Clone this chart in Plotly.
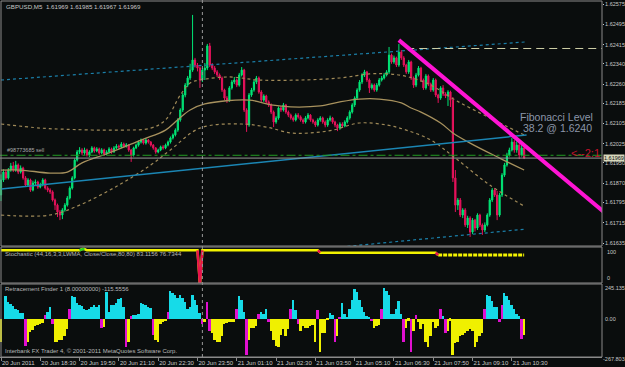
import plotly.graph_objects as go

# ---------------- data (prices in points above 1.61000, 1 point = 0.00001) ----------------
BASE = 1.61
PT = 1e-5
OPEN_FIRST = 824
CLOSE_PTS = [883, 914, 891, 922, 938, 922, 942, 914, 930, 891, 863, 883, 843, 871,
             875, 855, 863, 883, 851, 843, 836,
             804, 784, 757, 745, 765, 784, 812, 851, 891, 961, 993, 1001,
             989, 1001, 981, 993, 1009, 997, 1005, 989, 1001, 985, 993, 1005, 993, 1009, 1016, 1013, 1024, 1016, 1020, 1001,
             981,
             1009, 1020, 1032, 1040, 1028, 1040, 1032, 1020, 1009,
             993, 1001, 1013, 1009,
             1020, 1032, 1048, 1060,
             1079, 1119, 1158, 1217, 1256, 1284, 1315, 1355,
             1335, 1323, 1276, 1315, 1323, 1410, 1335, 1323, 1308, 1296, 1284, 1237, 1205, 1197, 1245, 1268, 1276, 1256,
             1296, 1315, 1158, 1099, 1217, 1237, 1268, 1284, 1229, 1197, 1213, 1190, 1178, 1150, 1111, 1127, 1166, 1158,
             1178, 1150, 1138,
             1127, 1119, 1138, 1131, 1119, 1111, 1127, 1138, 1119, 1111, 1099, 1119, 1127, 1111, 1099, 1119, 1127, 1111,
             1099, 1087, 1103, 1095, 1111, 1127,
             1150, 1178, 1205, 1237, 1268, 1296, 1308,
             1276, 1245, 1256, 1237, 1256, 1276, 1284, 1296, 1308,
             1374, 1347, 1363, 1335, 1386, 1363,
             1335, 1308, 1347, 1284, 1256, 1296, 1323, 1276, 1245, 1292, 1260,
             1237, 1276, 1217, 1205, 1245, 1221, 1213, 1229, 1197,
             891, 784, 804,
             745, 765, 706, 733, 678, 725, 694, 745, 706, 686, 706,
             745, 804, 843, 824, 745, 824, 902, 942, 981, 1001,
             1032, 1001, 1020, 981, 1009, 969]
HIGH_PTS = [905, 925, 922, 930, 950, 954, 958, 948, 940, 935, 898, 890, 888, 880,
            885, 880, 872, 890, 888, 858, 850,
            842, 810, 790, 765, 772, 792, 820, 858, 898, 968, 1001, 1012,
            1008, 1010, 1006, 1000, 1016, 1014, 1012, 1010, 1008, 1006, 1000, 1012, 1010, 1016, 1024, 1022, 1032, 1030, 1028, 1024,
            1005,
            1014, 1026, 1038, 1046, 1044, 1048, 1044, 1036, 1024,
            1012, 1006, 1018, 1020,
            1026, 1038, 1054, 1066,
            1086, 1126, 1165, 1225, 1264, 1292, 1340, 1532,
            1363, 1343, 1330, 1323, 1343, 1418, 1422, 1343, 1331, 1315, 1302, 1290, 1242, 1213, 1252, 1276, 1288, 1282,
            1304, 1327, 1320, 1165, 1225, 1245, 1276, 1292, 1290, 1236, 1220, 1218, 1196, 1184, 1156, 1134, 1172, 1174,
            1186, 1182, 1156,
            1144, 1133, 1145, 1146, 1137, 1125, 1134, 1146, 1142, 1124, 1116, 1126, 1134, 1132, 1117, 1126, 1136, 1131,
            1116, 1104, 1110, 1110, 1118, 1134,
            1157, 1185, 1212, 1244, 1276, 1303, 1316,
            1312, 1282, 1263, 1262, 1264, 1284, 1292, 1304, 1315,
            1406, 1380, 1372, 1368, 1418, 1394,
            1370, 1340, 1355, 1352, 1290, 1304, 1331, 1328, 1282, 1300, 1298,
            1266, 1284, 1282, 1222, 1252, 1256, 1228, 1236, 1234,
            1209, 922, 812,
            812, 772, 772, 742, 740, 733, 730, 752, 750, 712, 716,
            752, 812, 851, 850, 840, 832, 910, 950, 990, 1010,
            1048, 1040, 1035, 1028, 1030, 1012]
LOW_PTS = [800, 875, 884, 885, 915, 914, 915, 906, 908, 884, 855, 856, 836, 838,
           862, 848, 850, 858, 845, 835, 828,
           798, 765, 737, 725, 729, 758, 778, 806, 845, 885, 955, 985,
           980, 982, 975, 973, 988, 990, 992, 982, 984, 978, 980, 988, 986, 990, 1004, 1006, 1008, 1010, 1010, 994,
           954,
           975, 1004, 1014, 1026, 1022, 1022, 1026, 1014, 1002,
           986, 988, 996, 1002,
           1004, 1015, 1026, 1042,
           1054, 1072, 1112, 1150, 1208, 1248, 1276, 1308,
           1325, 1310, 1245, 1268, 1276, 1315, 1327, 1315, 1300, 1288, 1276, 1229, 1197, 1186, 1190, 1238, 1260, 1248,
           1250, 1290, 1150, 1072, 1092, 1210, 1230, 1260, 1222, 1190, 1190, 1182, 1170, 1142, 1091, 1104, 1120, 1150,
           1152, 1143, 1130,
           1120, 1112, 1113, 1124, 1112, 1103, 1105, 1121, 1112, 1104, 1091, 1093, 1112, 1104, 1090, 1092, 1113, 1104,
           1090, 1075, 1080, 1088, 1090, 1105,
           1120, 1144, 1170, 1198, 1230, 1260, 1288,
           1268, 1225, 1238, 1230, 1230, 1250, 1270, 1278, 1290,
           1300, 1340, 1340, 1327, 1328, 1355,
           1327, 1300, 1300, 1276, 1245, 1248, 1290, 1268, 1237, 1238, 1252,
           1229, 1230, 1209, 1186, 1198, 1213, 1205, 1174, 1170,
           875, 757, 765,
           737, 733, 698, 694, 659, 670, 680, 686, 698, 667, 678,
           700, 738, 796, 816, 725, 738, 816, 895, 935, 975,
           995, 990, 990, 965, 975, 965]
OPEN_PTS = [OPEN_FIRST] + CLOSE_PTS[:-1]

# moving average + envelopes (bar index, points)
MA_MID_BARS = [0, 8, 20, 27, 33, 44, 57, 67, 72, 77, 83, 101, 110, 118, 130, 138, 146, 154, 163, 167, 171, 179, 184, 191, 203, 213]
MA_MID_PTS = [922, 922, 910, 914, 950, 989, 1040, 1079, 1120, 1158, 1182, 1197, 1178, 1170, 1174, 1190, 1201, 1201, 1186, 1166, 1150, 1107, 1068, 1028, 969, 922]
MA_UP_BARS = [0, 16, 24, 48, 61, 67, 73, 77, 81, 93, 105, 122, 138, 150, 158, 166, 175, 185, 199, 213]
MA_UP_PTS = [1103, 1087, 1083, 1079, 1087, 1119, 1217, 1264, 1276, 1288, 1276, 1276, 1284, 1300, 1300, 1288, 1256, 1197, 1127, 1060]
MA_LO_BARS = [0, 20, 32, 48, 61, 69, 81, 98, 108, 118, 126, 135, 146, 157, 165, 175, 185, 199, 213]
MA_LO_PTS = [745, 745, 784, 863, 942, 1001, 1087, 1103, 1091, 1068, 1068, 1079, 1107, 1099, 1079, 1040, 969, 863, 780]

# regression channel
REG_BARS = [0, 214]
REG_MID_PTS = [847, 1060]
REG_UP_PTS = [1276, 1426]
REG_LO_PTS = [490, 690]

# trend line, fibonacci level, order & bid
TREND_BARS = [162, 246]
TREND_PTS = [1433, 753]
FIB_BARS = [165, 247]
FIB_LEVEL = 1.6240
ORDER_LEVEL = 1.61980
BID = 1.61969
DAY_SEP_BAR = 82

PRICE_TICKS = [1.62575, 1.62495, 1.62415, 1.62340, 1.62260, 1.62185, 1.62105,
               1.62025, 1.61950, 1.61870, 1.61795, 1.61715, 1.61635]
TIME_TICK_BARS = [0, 16, 32, 48, 64, 80, 96, 112, 128, 144, 160, 176, 192, 208]
TIME_LABELS = ["20 Jun 2011", "20 Jun 18:30", "20 Jun 19:50", "20 Jun 21:10", "20 Jun 22:30",
               "20 Jun 23:50", "21 Jun 01:10", "21 Jun 02:30", "21 Jun 03:50", "21 Jun 05:10",
               "21 Jun 06:30", "21 Jun 07:50", "21 Jun 09:10", "21 Jun 10:30"]

# stochastic
STOCH = [99] * 33 + [103] * 2 + [99] * 46 + [-15] + [99] * 48 + [91] * 48 + [83] * 36
STOCH_GREEN_BARS = [33, 34]
STOCH_RED_BARS = [81, 82, 130, 178]
STOCH_DOTTED_FROM = 178
STOCH_LEVELS = [100, 0]

# retracement finder histogram
RETR = [-160, 0, 158, 122, 105, 90, 73, 61, 44, 41,
        -190, -160, -95, -75, -50, -40, -35, -30, 24, 49,
        85, -37, -165, -160, -150, -150, -120, -70, 73, 158,
        153, 110, 98, 90, 66, 61, 66, 85, 98, 85,
        98, -61, -60, 190, 49, 98, 98, 115, 139, 146,
        85, -200, -165, 17, 24, 24, 37, 110, 105, 98,
        85, 80, -110, -146, -160, -37, -24, -17, 49, 195,
        183, 171, 146, 171, 146, 122, 73, 85, 171, 134,
        98, 43, -37, -24, 122, -85, -98, -146, -160, -160,
        -122, -37, -32, -24, -24, -24, 73, 158, 134, 49,
        -255, -146, -61, -61, -49, 37, 49, 37, 66, -24,
        -85, -146, -190, -196, -110, -73, -122, -73, 73, 134,
        61, -37, -85, -50, -61, -61, -49, -40, -165, 61,
        -232, -98, -98, -10, 44, 24, -160, -122, 12, 110,
        37, 10, 73, 134, 212, 188, 134, 85, 49, 17,
        12, -17, -61, -49, -44, 66, 220, 195, 171, 37,
        37, 73, 129, 37, -160, -61, -12, -232, -85, 24,
        -24, -73, -37, -160, -196, -122, -24, -61, -49, 73,
        17, -98, -85, -12, -254, -170, -160, -122, -110, -98,
        -85, -73, -85, -196, -160, -122, -98, 68, 171, 163,
        129, 85, 85, -20, 98, 183, 159, 134, 98, 66,
        37, 17, -140, -115.56]
MAGENTA_BARS = [10, 18, 21, 28, 41, 51, 53, 62, 68, 82, 84, 85, 96, 100, 105, 109, 118, 121,
                129, 136, 138, 151, 155, 164, 167, 169, 179, 181, 197, 203, 204, 212]
RETR_LEVELS = [245.135, 0.0, -267.803]
RETR_LABELS = ["245.135", "0.00", "-267.803"]


def price(p):
    return BASE + p * PT


BARS = list(range(len(CLOSE_PTS)))

# ---------------- styling ----------------
W, H = 625, 367
BG = "#0a0d0d"
GRID = "#8a8a8a"
AX_TXT = "#c8c8c8"
FONT = "Liberation Sans, Arial, sans-serif"
X_RIGHT = 602 / W
BAR_PX = 2.456
AX_FS = 5.5

fig = go.Figure()

# envelopes / MA
fig.add_trace(go.Scatter(x=MA_UP_BARS, y=[price(v) for v in MA_UP_PTS], mode="lines",
                         line=dict(color="#a08a58", width=1.2, dash="dot", shape="spline"), yaxis="y"))
fig.add_trace(go.Scatter(x=MA_LO_BARS, y=[price(v) for v in MA_LO_PTS], mode="lines",
                         line=dict(color="#a08a58", width=1.2, dash="dot", shape="spline"), yaxis="y"))
fig.add_trace(go.Scatter(x=MA_MID_BARS, y=[price(v) for v in MA_MID_PTS], mode="lines",
                         line=dict(color="#a8925e", width=1.3, shape="spline"), yaxis="y"))
# regression channel
fig.add_trace(go.Scatter(x=REG_BARS, y=[price(v) for v in REG_UP_PTS], mode="lines",
                         line=dict(color="#1b7fa8", width=1.2, dash="dot"), yaxis="y"))
fig.add_trace(go.Scatter(x=REG_BARS, y=[price(v) for v in REG_LO_PTS], mode="lines",
                         line=dict(color="#1b7fa8", width=1.2, dash="dot"), yaxis="y"))
fig.add_trace(go.Scatter(x=REG_BARS, y=[price(v) for v in REG_MID_PTS], mode="lines",
                         line=dict(color="#1b86b4", width=1.5), yaxis="y"))

# order and bid lines
fig.add_trace(go.Scatter(x=[-1, 247], y=[ORDER_LEVEL, ORDER_LEVEL], mode="lines",
                         line=dict(color="#229a22", width=1, dash="dashdot"), yaxis="y"))
fig.add_trace(go.Scatter(x=[-1, 247], y=[BID, BID], mode="lines",
                         line=dict(color="#9a9a9a", width=1), yaxis="y"))

# candles
GREEN = "#00e676"
RED = "#e8125c"
fig.add_trace(go.Candlestick(
    x=BARS,
    open=[price(v) for v in OPEN_PTS], high=[price(v) for v in HIGH_PTS],
    low=[price(v) for v in LOW_PTS], close=[price(v) for v in CLOSE_PTS],
    increasing=dict(line=dict(color=GREEN, width=1), fillcolor=GREEN),
    decreasing=dict(line=dict(color=RED, width=1), fillcolor=RED),
    whiskerwidth=0, yaxis="y", hoverinfo="skip"))

# fib level and trend line
fig.add_trace(go.Scatter(x=FIB_BARS, y=[FIB_LEVEL, FIB_LEVEL], mode="lines",
                         line=dict(color="#cfcfa6", width=1, dash="8px,5px"), yaxis="y"))
fig.add_trace(go.Scatter(x=TREND_BARS, y=[price(v) for v in TREND_PTS], mode="lines",
                         line=dict(color="#ff14d4", width=4), yaxis="y"))

# stochastic
fig.add_trace(go.Scatter(x=BARS[:STOCH_DOTTED_FROM + 1], y=STOCH[:STOCH_DOTTED_FROM + 1], mode="lines",
                         line=dict(color="#f2f200", width=2.5), yaxis="y2"))
fig.add_trace(go.Scatter(x=BARS[STOCH_DOTTED_FROM:], y=STOCH[STOCH_DOTTED_FROM:], mode="lines",
                         line=dict(color="#f2f200", width=3, dash="4px,1px"), yaxis="y2"))
for idx_list, col in ((STOCH_GREEN_BARS, "#22d022"), (STOCH_RED_BARS, "#e8124c")):
    xs, ys = [], []
    for b in idx_list:
        xs += [b - 1, b, None]
        ys += [STOCH[b - 1], STOCH[b], None]
    fig.add_trace(go.Scatter(x=xs, y=ys, mode="lines", line=dict(color=col, width=2.5), yaxis="y2"))

# retracement histogram
colors = []
for i, v in enumerate(RETR):
    if i in MAGENTA_BARS:
        colors.append("#e010d0")
    elif v >= 0:
        colors.append("#16dbe8")
    else:
        colors.append("#f0f000")
fig.add_trace(go.Bar(x=list(range(len(RETR))), y=RETR, marker=dict(color=colors, line=dict(width=0)),
                     width=0.8, yaxis="y3"))


def py(ypix):
    return 1 - ypix / H


shapes = [
    dict(type="line", xref="x", yref="paper", x0=DAY_SEP_BAR, x1=DAY_SEP_BAR, y0=py(357), y1=1,
         line=dict(color="#9a9a9a", width=1, dash="dot")),
]
for yr in ("y domain", "y2 domain", "y3 domain"):
    shapes.append(dict(type="rect", xref="paper", yref=yr, x0=1 / W, x1=X_RIGHT, y0=0, y1=1,
                       line=dict(color=GRID, width=1), fillcolor="rgba(0,0,0,0)", layer="above"))

small = dict(family=FONT, size=6, color="#b8b8b8")
ann = [
    dict(text="GBPUSD,M5  1.61969 1.61985 1.61967 1.61969", x=4 / W, y=py(6), xref="paper", yref="paper",
         xanchor="left", yanchor="middle", showarrow=False, font=dict(family=FONT, size=6.2, color="#c8c8c8")),
    dict(text="#98773685 sell", x=5 / W, y=ORDER_LEVEL, xref="paper", yref="y", yshift=5,
         xanchor="left", yanchor="middle", showarrow=False, font=dict(family=FONT, size=5.5, color="#a8a8a8")),
    dict(text="Stochastic (44,16,3,3,LWMA, Close/Close,80,80) 83.1156 76.7344", x=3 / W, y=py(254),
         xref="paper", yref="paper", xanchor="left", yanchor="middle", showarrow=False, font=small),
    dict(text="Retracement Finder 1 (8.00000000) -115.5556", x=3 / W, y=py(289),
         xref="paper", yref="paper", xanchor="left", yanchor="middle", showarrow=False, font=small),
    dict(text="Interbank FX Trader 4, \u00a9 2001-2011 MetaQuotes Software Corp.", x=3 / W, y=py(351),
         xref="paper", yref="paper", xanchor="left", yanchor="middle", showarrow=False, font=small),
    dict(text="Fibonacci Level", x=595 / W, y=py(117), xref="paper", yref="paper",
         xanchor="right", yanchor="middle", showarrow=False, font=dict(family=FONT, size=10.5, color="#8c97aa")),
    dict(text="38.2 @ 1.6240", x=594 / W, y=py(128), xref="paper", yref="paper",
         xanchor="right", yanchor="middle", showarrow=False, font=dict(family=FONT, size=10.5, color="#8c97aa")),
    dict(text="<--2:1", x=X_RIGHT, y=ORDER_LEVEL, xref="paper", yref="y", yshift=2,
         xanchor="right", yanchor="middle", showarrow=False, font=dict(family=FONT, size=11, color="#c4122c")),
    dict(text="1.61969", x=X_RIGHT + 1 / W, y=BID, xref="paper", yref="y",
         xanchor="left", yanchor="middle", showarrow=False, bgcolor="#d8d8bc", borderpad=0,
         font=dict(family=FONT, size=AX_FS, color="#101010")),
]
for lv, sh in zip(STOCH_LEVELS, (-2, 2)):
    ann.append(dict(text=str(lv), x=X_RIGHT + 3 / W, y=lv, xref="paper", yref="y2", yshift=sh,
                    xanchor="left", yanchor="middle", showarrow=False, font=dict(family=FONT, size=AX_FS, color=AX_TXT)))
for lv, lab, sh, dx in zip(RETR_LEVELS, RETR_LABELS, (-4, 0, -2), (1, 1, -1)):
    ann.append(dict(text=lab, x=X_RIGHT + dx / W, y=lv, xref="paper", yref="y3", yshift=sh,
                    xanchor="left", yanchor="middle", showarrow=False, font=dict(family=FONT, size=AX_FS, color=AX_TXT)))

fig.update_layout(
    width=W, height=H, margin=dict(l=0, r=0, t=0, b=0, autoexpand=False),
    paper_bgcolor=BG, plot_bgcolor=BG, showlegend=False,
    font=dict(family=FONT, color=AX_TXT),
    bargap=0,
    xaxis=dict(domain=[0, X_RIGHT], range=[-1 / BAR_PX, (602 - 1) / BAR_PX], anchor="y3", automargin=False,
               tickmode="array", tickvals=TIME_TICK_BARS, ticktext=TIME_LABELS, tickangle=0,
               ticklabelposition="outside right", ticks="outside", ticklen=3, tickcolor=GRID,
               tickfont=dict(family=FONT, size=6, color=AX_TXT),
               showgrid=False, zeroline=False, showline=True, linecolor=GRID,
               rangeslider=dict(visible=False)),
    yaxis=dict(domain=[py(246), py(1)], range=[price(623.2), price(1586.8)], side="right", anchor="x",
               automargin=False,
               tickmode="array", tickvals=PRICE_TICKS, ticktext=["%.5f" % t for t in PRICE_TICKS],
               ticks="outside", ticklen=1, tickcolor=AX_TXT, ticklabelstandoff=0,
               tickfont=dict(family=FONT, size=AX_FS, color=AX_TXT),
               showgrid=False, zeroline=False, showline=False),
    yaxis2=dict(domain=[py(283), py(247)], range=[-10, 110], side="right", anchor="x", automargin=False,
                showticklabels=False, ticks="", showgrid=False, zeroline=False, showline=False),
    yaxis3=dict(domain=[py(357), py(284)], range=[-267.803, 245.135], side="right", anchor="x",
                automargin=False,
                showticklabels=False, ticks="", showgrid=False, zeroline=False, showline=False),
    shapes=shapes, annotations=ann,
)

fig.write_html("out.html")
